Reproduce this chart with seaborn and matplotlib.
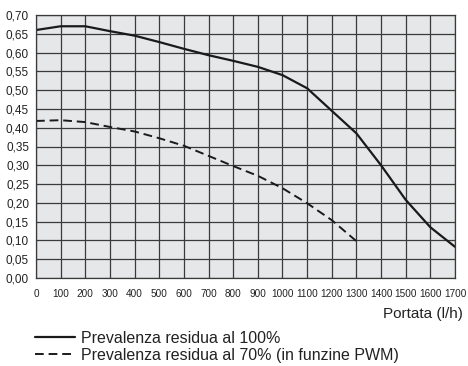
import numpy as np
import pandas as pd
import matplotlib
matplotlib.use("Agg")
import matplotlib.pyplot as plt
import seaborn as sns
from matplotlib.ticker import FuncFormatter

# Data
portata_full = [0, 100, 200, 300, 400, 500, 600, 700, 800, 900, 1000, 1100, 1200, 1300, 1400, 1500, 1600, 1700]
prev_full = [0.660, 0.670, 0.670, 0.657, 0.645, 0.628, 0.610, 0.593, 0.578, 0.562, 0.540, 0.505, 0.445, 0.385, 0.300, 0.208, 0.135, 0.083]

portata_pwm = [0, 100, 200, 300, 400, 500, 600, 700, 800, 900, 1000, 1100, 1200, 1300]
prev_pwm = [0.418, 0.420, 0.415, 0.402, 0.390, 0.372, 0.352, 0.325, 0.298, 0.272, 0.239, 0.199, 0.154, 0.098]

label_full = "Prevalenza residua al 100%"
label_pwm = "Prevalenza residua al 70% (in funzine PWM)"

df_full = pd.DataFrame({"Portata": portata_full, "Prevalenza": prev_full})
df_pwm = pd.DataFrame({"Portata": portata_pwm, "Prevalenza": prev_pwm})

sns.set_style("white")
plt.rcParams["font.family"] = ["Liberation Sans", "DejaVu Sans"]

fig = plt.figure(figsize=(4.68, 3.66), dpi=100)
ax = fig.add_axes([36 / 468, 1 - 278 / 366, (455 - 36) / 468, (278 - 15) / 366])
ax.set_facecolor("#e6e7e8")

sns.lineplot(data=df_full, x="Portata", y="Prevalenza", ax=ax, color="#1a1a1a", lw=1.6, label=label_full)
sns.lineplot(data=df_pwm, x="Portata", y="Prevalenza", ax=ax, color="#1a1a1a", lw=1.4,
             linestyle=(0, (4.5, 2.5)), label=label_pwm)

ax.set_xlim(0, 1700)
ax.set_ylim(0, 0.70)
ax.set_xticks(np.arange(0, 1701, 100))
ax.set_yticks(np.arange(0, 0.701, 0.05))
ax.yaxis.set_major_formatter(FuncFormatter(lambda v, p: f"{v:.2f}".replace(".", ",")))
ax.grid(True, color="#3a3a3a", lw=0.9)
for s in ax.spines.values():
    s.set_color("#3a3a3a")
    s.set_linewidth(0.9)
ax.tick_params(axis="both", length=3, width=0.8, color="#333333", pad=2, labelcolor="#222222")
ax.tick_params(axis="x", labelsize=7.2, pad=5)
ax.tick_params(axis="y", labelsize=8.5)

ax.set_xlabel("")
ax.set_ylabel("")
fig.text(463 / 468, 1 - 314 / 366, "Portata (l/h)", ha="right", va="center", fontsize=11, color="#222222")

ax.get_legend().remove()
handles, labels = ax.get_legend_handles_labels()
leg = fig.legend(handles, labels, loc="upper left", bbox_to_anchor=(35 / 468, 1 - 331 / 366),
                 frameon=False, fontsize=11.5, handlelength=2.5, handletextpad=0.38,
                 labelspacing=0.1, borderaxespad=0, borderpad=0)
for t in leg.get_texts():
    t.set_color("#222222")

fig.savefig("out.png", dpi=100)
